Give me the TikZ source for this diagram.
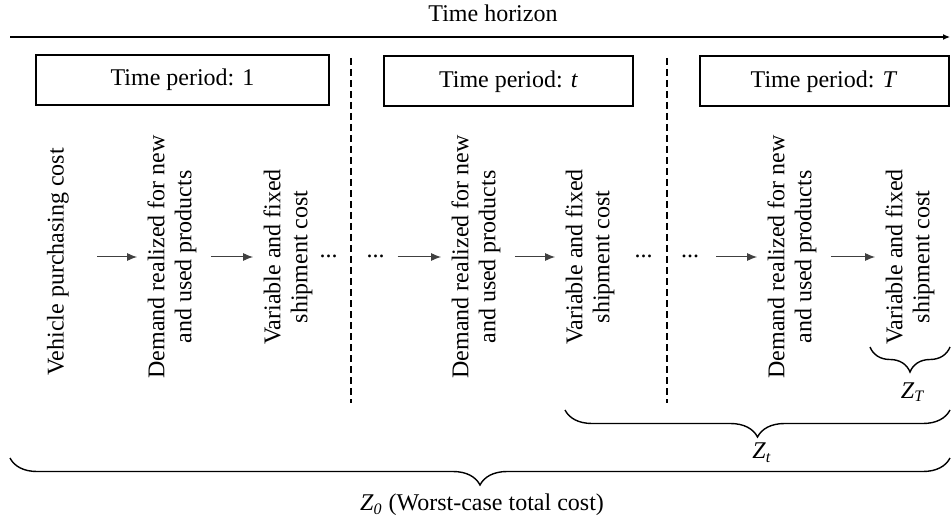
\documentclass[tikz,border=0pt]{standalone}
\usepackage{fontspec}
\setmainfont{Liberation Serif}
\usetikzlibrary{arrows.meta,decorations.pathreplacing}
\tikzstyle{period}=[draw, line width=1pt, minimum height=25pt, inner sep=0pt]
\tikzstyle{cost}=[rotate=90, align=center, inner sep=5pt]
\tikzstyle{flow}=[-{Latex[length=5pt,width=4pt]}, line width=0.5pt, black!75, shorten <=2pt]
\tikzstyle{sep}=[dash pattern=on 3.5pt off 2pt, line width=0.8pt]
\tikzstyle{brc}=[decorate, decoration={brace, mirror, amplitude=13.5pt}, line width=0.7pt]

\begin{document}
\begin{tikzpicture}[x=0.5pt, y=0.5pt, font=\fontsize{12}{13.5}\selectfont]
                \useasboundingbox (0,0) rectangle (951,525);
                \node (hor) at (493,512) {Time horizon};
                \coordinate (h0) at (10,488);
                \coordinate (h1) at (950,488);
                \draw[-{Latex[length=3.5pt,width=3pt]}, line width=0.6pt] (h0)--(h1);
                \node[period, minimum width=146.5pt] (p1) at (182.5,445) {Time period: 1};
                \node[period, minimum width=124.5pt] (pt) at (508.5,443.5) {Time period: \textit{t}};
                \node[period, minimum width=124.5pt] (pT) at (824,443.5) {Time period: \textit{T}};
                \coordinate (s1a) at (351,467);
                \coordinate (s1b) at (351,122);
                \coordinate (s2a) at (667,467);
                \coordinate (s2b) at (667,122);
                \draw[sep] (s1a)--(s1b);
                \draw[sep] (s2a)--(s2b);
                \node[cost] (veh) at (58,263) {Vehicle purchasing cost};
                \node[cost] (dem1) at (172,268) {Demand realized for new\\and used products};
                \node[cost] (var1) at (288,268) {Variable and fixed\\shipment cost};
                \node[anchor=base] (dt1) at (328.5,267) {...};
                \node[anchor=base] (dt2) at (375.5,267) {...};
                \node[cost] (dem2) at (476,268) {Demand realized for new\\and used products};
                \node[cost] (var2) at (590,268) {Variable and fixed\\shipment cost};
                \node[anchor=base] (dt3) at (643.5,267) {...};
                \node[anchor=base] (dt4) at (690,267) {...};
                \node[cost] (dem3) at (792,268) {Demand realized for new\\and used products};
                \node[cost] (var3) at (910,268) {Variable and fixed\\shipment cost};
                \draw[flow, shorten <=9pt] (veh.south |- dem1) -- (dem1);
                \draw[flow] (dem1) -- (var1);
                \draw[flow, shorten <=3pt] (dt2.east |- dem2) -- (dem2);
                \draw[flow] (dem2) -- (var2);
                \draw[flow, shorten <=5pt] (dt4.east |- dem3) -- (dem3);
                \draw[flow] (dem3) -- (var3);
                \coordinate (bT0) at (870,178);
                \coordinate (bT1) at (950,178);
                \coordinate (bt0) at (565,115);
                \coordinate (bt1) at (950,115);
                \coordinate (b00) at (10,67);
                \coordinate (b01) at (950,67);
                \draw[brc, decoration={amplitude=12.5pt}] (bT0)--(bT1);
                \draw[brc] (bt0)--(bt1);
                \draw[brc] (b00)--(b01);
                \node (zT) at (913,133) {\textit{Z}\textsubscript{\textit{T}}};
                \node (zt) at (762,72) {\textit{Z}\textsubscript{\textit{t}}};
                \node (z0) at (482,20) {\textit{Z}\textsubscript{\textit{0}} (Worst-case total cost)};
            \end{tikzpicture}
\end{document}
